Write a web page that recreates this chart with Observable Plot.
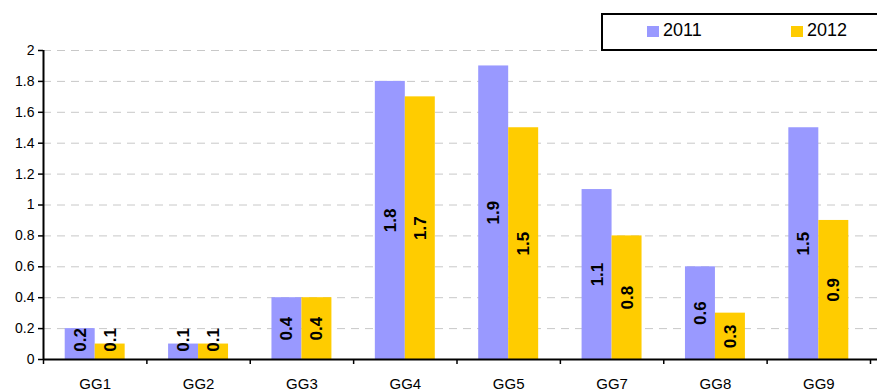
<!DOCTYPE html>
<html>
<head>
<meta charset="utf-8">
<script src="https://cdn.jsdelivr.net/npm/d3@7"></script>
<script src="https://cdn.jsdelivr.net/npm/@observablehq/plot@0.6"></script>
<style>
  html, body { margin: 0; padding: 0; background: #fff; }
  body { width: 877px; height: 392px; position: relative; overflow: hidden; font-family: "Liberation Sans", Arial, sans-serif; }
  #legend { position: absolute; left: 601px; top: 13px; width: 290px; height: 34px; border: 2px solid #000; background: #fff; box-sizing: content-box; }
  .item { position: absolute; top: 5px; font-size: 18px; line-height: 21px; color: #000; display: flex; align-items: center; }
  .sw { width: 12px; height: 11px; margin-right: 4px; margin-top: 2px; display: inline-block; }
</style>
</head>
<body>
<div id="chart"></div>
<div id="legend"></div>
<script>
const categories = ["GG1", "GG2", "GG3", "GG4", "GG5", "GG7", "GG8", "GG9"];
const seriesNames = ["2011", "2012"];
const values2011 = [0.2, 0.1, 0.4, 1.8, 1.9, 1.1, 0.6, 1.5];
const values2012 = [0.1, 0.1, 0.4, 1.7, 1.5, 0.8, 0.3, 0.9];
const colors = ["#9999FF", "#FFCC00"];
const yTicks = [0, 0.2, 0.4, 0.6, 0.8, 1, 1.2, 1.4, 1.6, 1.8, 2];

// bar slot within each category band (fraction of band)
const slotStart = {"2011": 0.21, "2012": 0.5};
const slotWidth = 0.29;
// labels of short bars are lifted so they stay above the baseline
const labelFloor = 0.127;

const rows = [];
categories.forEach((c, i) => {
  [values2011, values2012].forEach((vals, s) => {
    const series = seriesNames[s];
    const x1 = i + slotStart[series];
    rows.push({cat: c, i, series, value: vals[i], x1, x2: x1 + slotWidth, xm: x1 + slotWidth / 2});
  });
});

const chart = Plot.plot({
  width: 877,
  height: 392,
  marginLeft: 43,
  marginRight: 7,
  marginTop: 50,
  marginBottom: 33,
  style: {fontFamily: "'Liberation Sans', Arial, sans-serif", fontSize: "14px", color: "#000", background: "#fff"},
  x: {domain: [0, categories.length], label: null},
  y: {domain: [0, 2], label: null},
  color: {domain: seriesNames, range: colors},
  marks: [
    Plot.gridY(yTicks, {stroke: "#c8c8c8", strokeOpacity: 1, strokeDasharray: "8,6", strokeWidth: 1, x1: 0, x2: categories.length + 0.1}),
    Plot.rectY(rows, {x1: "x1", x2: "x2", y: "value", fill: "series"}),
    Plot.text(rows, {x: "xm", y: d => Math.max(d.value / 2, labelFloor), text: d => String(d.value), rotate: -90, fontWeight: "bold", fontSize: 17, fill: "#000"}),
    Plot.axisY(yTicks, {label: null, tickSize: 5, tickPadding: 4, tickFormat: d => String(+d.toFixed(1)), stroke: "#000", strokeWidth: 1.5, fontSize: 14}),
    Plot.axisX(d3.range(0, categories.length + 1), {label: null, tickSize: 5, tickFormat: () => "", stroke: "#000", strokeWidth: 1.5}),
    Plot.axisX(categories.map((c, i) => i + 0.5), {label: null, tickSize: 0, tickPadding: 19, tickFormat: (d) => categories[Math.floor(d)], fontSize: 15}),
    Plot.ruleX([0], {stroke: "#000", strokeWidth: 2}),
    Plot.ruleY([0], {stroke: "#000", strokeWidth: 2, x1: 0, x2: categories.length + 0.1})
  ]
});
document.getElementById("chart").appendChild(chart);

const legend = document.getElementById("legend");
const lx = [44, 188];
seriesNames.forEach((s, k) => {
  const it = document.createElement("div");
  it.className = "item";
  it.style.left = lx[k] + "px";
  const sw = document.createElement("span");
  sw.className = "sw";
  sw.style.background = colors[k];
  it.appendChild(sw);
  it.appendChild(document.createTextNode(s));
  legend.appendChild(it);
});
</script>
</body>
</html>
